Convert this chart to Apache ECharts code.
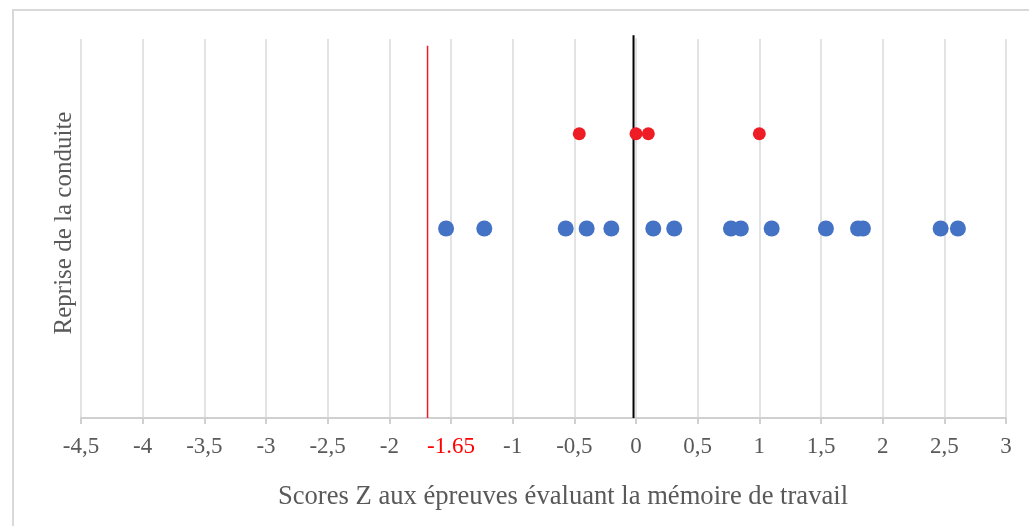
<!DOCTYPE html>
<html>
<head>
<meta charset="utf-8">
<script src="https://cdn.jsdelivr.net/npm/echarts@6/dist/echarts.min.js"></script>
<style>html,body{margin:0;padding:0;background:#fff}#c{width:1029px;height:526px}</style>
</head>
<body>
<div id="c"></div>
<script>
// Data
const blueScores = [-1.54, -1.23, -0.57, -0.40, -0.20, 0.14, 0.31, 0.77, 0.85, 1.10, 1.54, 1.80, 1.84, 2.47, 2.61];
const blueLevel = 2;
const redScores = [-0.46, 0.00, 0.10, 1.00];
const redLevel = 3;
const thresholdX = -1.69;   // red reference line (labelled -1.65)
const thresholdTop = 3.93;
const zeroLineX = -0.02;    // black reference line
const zeroLineTop = 4.04;
const xTicks = [-4.5, -4, -3.5, -3, -2.5, -2, -1.5, -1, -0.5, 0, 0.5, 1, 1.5, 2, 2.5, 3];
const xTickLabels = ['-4,5', '-4', '-3,5', '-3', '-2,5', '-2', '-1.65', '-1', '-0,5', '0', '0,5', '1', '1,5', '2', '2,5', '3'];
const highlightedLabel = '-1.65';
const xTitle = 'Scores Z aux épreuves évaluant la mémoire de travail';
const yTitle = 'Reprise de la conduite';

const font = 'Liberation Serif';
const gray = '#595959';
const chart = echarts.init(document.getElementById('c'), null, {renderer: 'canvas'});
chart.setOption({
  backgroundColor: '#fff',
  animation: false,
  graphic: [{
    type: 'rect', shape: {x: 13, y: 10, width: 1040, height: 540},
    style: {fill: 'none', stroke: '#d9d9d9', lineWidth: 2}, silent: true, z: -1
  }, {
    type: 'text', x: 563, y: 497,
    style: {text: xTitle, font: '26.6px "Liberation Serif"', fill: gray, align: 'center', verticalAlign: 'middle'}
  }, {
    type: 'text', x: 64, y: 223, rotation: Math.PI / 2,
    style: {text: yTitle, font: '25px "Liberation Serif"', fill: gray, align: 'center', verticalAlign: 'middle'}
  }],
  grid: {left: 81, right: 23, top: 39, bottom: 108},
  xAxis: {
    type: 'value', min: -4.5, max: 3, interval: 0.5,
    axisLine: {show: true, lineStyle: {color: '#d0d0d0', width: 2}},
    axisTick: {show: true, length: 6, lineStyle: {color: '#d0d0d0', width: 2}},
    splitLine: {show: true, lineStyle: {color: '#e3e3e3', width: 2}},
    axisLabel: {
      margin: 17, fontFamily: font, fontSize: 23, color: gray,
      formatter: function (v) {
        const i = xTicks.findIndex(t => Math.abs(t - v) < 1e-9);
        const s = i >= 0 ? xTickLabels[i] : String(v);
        return s === highlightedLabel ? '{r|' + s + '}' : s;
      },
      rich: {r: {color: '#ff0000', fontFamily: font, fontSize: 23}}
    }
  },
  yAxis: {
    type: 'value', min: 0, max: 4,
    axisLine: {show: true, lineStyle: {color: '#e3e3e3', width: 2}},
    axisTick: {show: false}, axisLabel: {show: false}, splitLine: {show: false}
  },
  series: [{
    type: 'line', data: [[thresholdX, 0], [thresholdX, thresholdTop]],
    showSymbol: false, symbol: 'none', clip: false,
    lineStyle: {color: '#ee1c25', width: 1.5}, z: 3
  }, {
    type: 'line', data: [[zeroLineX, 0], [zeroLineX, zeroLineTop]],
    showSymbol: false, symbol: 'none', clip: false,
    lineStyle: {color: '#000000', width: 2}, z: 3
  }, {
    type: 'scatter', data: blueScores.map(x => [x, blueLevel]),
    symbolSize: 16, itemStyle: {color: '#4472c4', opacity: 1}, z: 4
  }, {
    type: 'scatter', data: redScores.map(x => [x, redLevel]),
    symbolSize: 13, itemStyle: {color: '#ee1c25', opacity: 1}, z: 5
  }]
});
</script>
</body>
</html>
